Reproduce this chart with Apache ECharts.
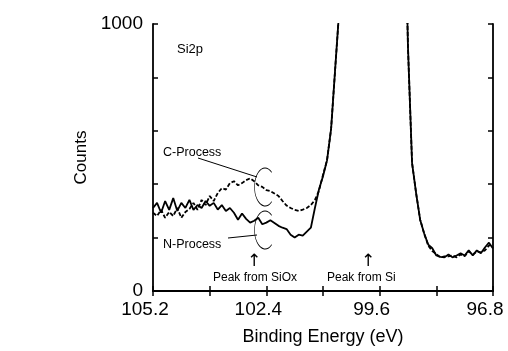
<!DOCTYPE html>
<html>
<head>
<meta charset="utf-8">
<script src="https://cdn.jsdelivr.net/npm/echarts@6/dist/echarts.min.js"></script>
<style>
  html, body { margin: 0; padding: 0; background: #fff; }
  #main { width: 508px; height: 351px; }
</style>
</head>
<body>
<div id="main"></div>
<script>
// binding energy (eV), read every 0.1 eV
var energy = [
  105.2, 105.1, 105.0, 104.9, 104.8, 104.7, 104.6, 104.5, 104.4, 104.3,
  104.2, 104.1, 104.0, 103.9, 103.8, 103.7, 103.6, 103.5, 103.4, 103.3,
  103.2, 103.1, 103.0, 102.9, 102.8, 102.7, 102.6, 102.5, 102.4, 102.3,
  102.2, 102.1, 102.0, 101.9, 101.8, 101.7, 101.6, 101.5, 101.4, 101.3,
  101.2, 101.1, 101.0, 100.9, 100.8, 100.7, 100.6, 100.5, 100.4, 100.3,
  100.2, 100.1, 100.0, 99.9, 99.8, 99.7, 99.6, 99.5, 99.4, 99.3,
  99.2, 99.1, 99.0, 98.9, 98.8, 98.7, 98.6, 98.5, 98.4, 98.3,
  98.2, 98.1, 98.0, 97.9, 97.8, 97.7, 97.6, 97.5, 97.4, 97.3,
  97.2, 97.1, 97.0, 96.9, 96.8
];

// N-Process (solid)
var nProcess = [
  311, 330, 293, 337, 304, 348, 300, 330, 311, 341,
  304, 322, 311, 337, 319, 330, 305, 322, 300, 311,
  293, 267, 290, 270, 256, 263, 274, 250, 256, 265,
  255, 244, 237, 232, 211, 200, 211, 207, 222, 237,
  311, 380, 430, 490, 607, 830, 1050, 1700, 2400, 3100,
  3700, 4100, 4300, 4400, 4300, 4000, 3800, 3600, 3200, 2800,
  2300, 1900, 1600, 911, 480, 367, 267, 215, 174, 160,
  133, 128, 126, 137, 126, 133, 141, 133, 152, 133,
  152, 141, 163, 181, 159
];

// C-Process (dashed)
var cProcess = [
  293, 281, 304, 274, 296, 281, 311, 274, 296, 307,
  330, 304, 341, 322, 356, 337, 367, 385, 380, 404,
  411, 396, 404, 415, 422, 411, 396, 390, 378, 374,
  365, 356, 337, 320, 311, 304, 300, 305, 311, 322,
  341, 375, 435, 490, 607, 830, 1050, 1700, 2400, 3100,
  3700, 4100, 4300, 4400, 4300, 4000, 3800, 3600, 3200, 2800,
  2300, 1900, 1600, 911, 480, 367, 267, 215, 170, 150,
  138, 126, 130, 130, 133, 126, 137, 130, 148, 137,
  148, 145, 152, 170, 175
];

var xLabels = [105.2, 102.4, 99.6, 96.8];
var yLabels = [0, 1000];

var dom = document.getElementById('main');
var chart = echarts.init(dom);

var font = 'Liberation Sans';

function pairs(ys) {
  return energy.map(function (e, i) { return [e, ys[i]]; });
}

var axisCommon = {
  axisLine: { lineStyle: { color: '#000', width: 1.8 } },
  axisTick: { inside: true, length: 5, lineStyle: { color: '#000', width: 1.5 } },
  splitLine: { show: false }
};

chart.setOption({
  animation: false,
  grid: { left: 153, right: 15, top: 24, bottom: 57 },
  xAxis: [
    Object.assign({
      type: 'value', min: 96.8, max: 105.2, interval: 1.4, inverse: true,
      name: 'Binding Energy (eV)', nameLocation: 'middle', nameGap: 37,
      nameTextStyle: { fontSize: 18, color: '#000', fontFamily: font },
      axisLabel: {
        color: '#000', fontSize: 19, fontFamily: font, margin: 9,
        padding: [0, 16, 0, 0],
        formatter: function (v) {
          var s = v.toFixed(1);
          return xLabels.indexOf(+s) >= 0 ? s : '';
        }
      }
    }, axisCommon),
    Object.assign({
      type: 'value', position: 'top', min: 96.8, max: 105.2, interval: 1.4, inverse: true,
      axisLabel: { show: false }
    }, axisCommon)
  ],
  yAxis: [
    Object.assign({
      type: 'value', min: 0, max: 1000, interval: 200,
      name: 'Counts', nameLocation: 'middle', nameGap: 53,
      nameTextStyle: { fontSize: 17, color: '#000', fontFamily: font },
      axisLabel: {
        color: '#000', fontSize: 19, fontFamily: font, margin: 10,
        formatter: function (v) { return yLabels.indexOf(v) >= 0 ? String(v) : ''; }
      }
    }, axisCommon),
    Object.assign({
      type: 'value', position: 'right', min: 0, max: 1000, interval: 200,
      axisLabel: { show: false }
    }, axisCommon)
  ],
  series: [
    {
      name: 'N-Process', type: 'line', data: pairs(nProcess),
      showSymbol: false, clip: true,
      lineStyle: { color: '#000', width: 1.8 }
    },
    {
      name: 'C-Process', type: 'line', data: pairs(cProcess),
      showSymbol: false, clip: true,
      lineStyle: { color: '#000', width: 1.8, type: [4, 2] }
    }
  ],
  graphic: [
    { type: 'text', left: 177, top: 43, style: { text: 'Si2p', font: '13px ' + font, fill: '#000' } },
    { type: 'text', left: 163, top: 146, style: { text: 'C-Process', font: '12.5px ' + font, fill: '#000' } },
    { type: 'text', left: 163, top: 238, style: { text: 'N-Process', font: '12.5px ' + font, fill: '#000' } },
    { type: 'line', shape: { x1: 198, y1: 158, x2: 257, y2: 177 }, style: { stroke: '#000', lineWidth: 1 } },
    { type: 'line', shape: { x1: 228, y1: 238, x2: 257, y2: 235 }, style: { stroke: '#000', lineWidth: 1 } },
    {
      type: 'arc', x: 265, y: 187, scaleX: 0.55,
      shape: { cx: 0, cy: 0, r: 19, startAngle: 50 * Math.PI / 180, endAngle: 310 * Math.PI / 180, clockwise: true },
      style: { stroke: '#000', lineWidth: 1.1, fill: null, strokeNoScale: true }
    },
    {
      type: 'arc', x: 265, y: 230, scaleX: 0.55,
      shape: { cx: 0, cy: 0, r: 19, startAngle: 50 * Math.PI / 180, endAngle: 310 * Math.PI / 180, clockwise: true },
      style: { stroke: '#000', lineWidth: 1.1, fill: null, strokeNoScale: true }
    },
    { type: 'text', left: 247, top: 253, style: { text: '↑', font: '17px DejaVu Sans', fill: '#000' } },
    { type: 'text', left: 361, top: 253, style: { text: '↑', font: '17px DejaVu Sans', fill: '#000' } },
    { type: 'text', left: 213, top: 272, style: { text: 'Peak from SiOx', font: '12px ' + font, fill: '#000' } },
    { type: 'text', left: 327, top: 272, style: { text: 'Peak from Si', font: '12px ' + font, fill: '#000' } }
  ]
});
</script>
</body>
</html>
